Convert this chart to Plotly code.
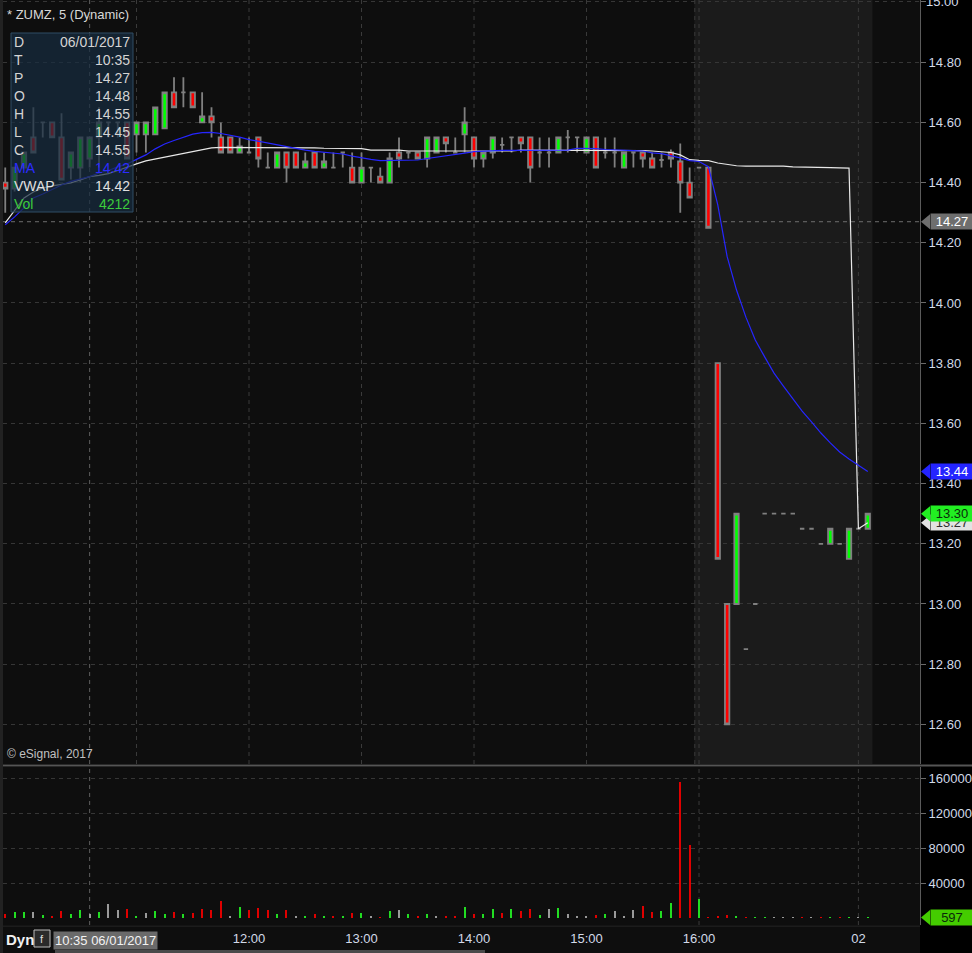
import plotly.graph_objects as go

# ---------------- data (5-minute bars, bar index 0 = 09:30) ----------------
FIRST_BAR = 4

opens = [14.40, 14.38, 14.45, 14.55, 14.60, 14.60, 14.55, 14.45, 14.45, 14.48,
         14.55, 14.60, 14.60, 14.60, 14.56, 14.56, 14.56, 14.58, 14.70, 14.70,
         14.70, 14.60, 14.62, 14.55, 14.55, 14.50, 14.50, 14.55, 14.45, 14.45,
         14.50, 14.50, 14.45, 14.50, 14.45, 14.45, 14.50, 14.45, 14.40, 14.45,
         14.42, 14.40, 14.50, 14.50, 14.50, 14.48, 14.50, 14.55, 14.50, 14.56,
         14.55, 14.48, 14.50, 14.525, 14.55, 14.55, 14.55, 14.50, 14.50, 14.50,
         14.55, 14.55, 14.50, 14.55, 14.50, 14.50, 14.45, 14.50, 14.50, 14.48,
         14.475, 14.50, 14.47, 14.40, 14.45, 14.45, 13.80, 13.00, 13.00, 12.85,
         13.00, 13.30, 13.30, 13.30, 13.30, 13.25, 13.25, 13.20, 13.20, 13.20,
         13.15, 13.25, 13.25]

highs = [14.45, 14.45, 14.50, 14.65, 14.60, 14.60, 14.63, 14.50, 14.55, 14.55,
         14.65, 14.60, 14.60, 14.60, 14.60, 14.60, 14.65, 14.70, 14.75, 14.75,
         14.70, 14.70, 14.65, 14.60, 14.55, 14.55, 14.55, 14.55, 14.50, 14.50,
         14.50, 14.50, 14.50, 14.50, 14.50, 14.50, 14.50, 14.50, 14.50, 14.45,
         14.45, 14.50, 14.55, 14.50, 14.50, 14.55, 14.55, 14.55, 14.55, 14.65,
         14.55, 14.50, 14.55, 14.55, 14.55, 14.55, 14.55, 14.55, 14.55, 14.55,
         14.575, 14.55, 14.55, 14.55, 14.55, 14.55, 14.50, 14.50, 14.50, 14.50,
         14.50, 14.51, 14.53, 14.45, 14.45, 14.45, 13.80, 13.00, 13.30, 12.85,
         13.00, 13.30, 13.30, 13.30, 13.30, 13.25, 13.25, 13.20, 13.25, 13.20,
         13.25, 13.25, 13.30]

lows = [14.30, 14.37, 14.45, 14.50, 14.55, 14.55, 14.41, 14.41, 14.40, 14.45,
        14.45, 14.55, 14.55, 14.48, 14.50, 14.50, 14.56, 14.58, 14.65, 14.65,
        14.65, 14.60, 14.55, 14.50, 14.50, 14.50, 14.50, 14.45, 14.45, 14.45,
        14.40, 14.45, 14.45, 14.45, 14.45, 14.45, 14.45, 14.40, 14.40, 14.40,
        14.40, 14.40, 14.45, 14.48, 14.48, 14.45, 14.50, 14.50, 14.50, 14.50,
        14.45, 14.45, 14.48, 14.50, 14.50, 14.50, 14.40, 14.45, 14.45, 14.50,
        14.50, 14.50, 14.50, 14.45, 14.48, 14.45, 14.45, 14.45, 14.45, 14.45,
        14.45, 14.45, 14.30, 14.35, 14.45, 14.25, 13.15, 12.60, 13.00, 12.85,
        13.00, 13.30, 13.30, 13.30, 13.30, 13.25, 13.25, 13.20, 13.20, 13.20,
        13.15, 13.25, 13.25]

closes = [14.38, 14.45, 14.50, 14.50, 14.60, 14.55, 14.41, 14.50, 14.55, 14.55,
          14.60, 14.60, 14.60, 14.48, 14.60, 14.60, 14.65, 14.70, 14.65, 14.70,
          14.65, 14.62, 14.60, 14.50, 14.50, 14.52, 14.50, 14.48, 14.45, 14.50,
          14.45, 14.45, 14.47, 14.45, 14.47, 14.45, 14.50, 14.40, 14.45, 14.45,
          14.40, 14.48, 14.48, 14.50, 14.48, 14.55, 14.55, 14.53, 14.50, 14.60,
          14.48, 14.50, 14.55, 14.525, 14.55, 14.53, 14.45, 14.50, 14.50, 14.55,
          14.55, 14.55, 14.55, 14.45, 14.50, 14.50, 14.50, 14.50, 14.48, 14.45,
          14.475, 14.48, 14.40, 14.35, 14.45, 14.25, 13.15, 12.60, 13.30, 12.85,
          13.00, 13.30, 13.30, 13.30, 13.30, 13.25, 13.25, 13.20, 13.25, 13.20,
          13.25, 13.25, 13.30]

volumes = [4600, 6900, 6900, 6900, 3800, 2300, 8000, 4600, 9100, 4212,
           6900, 16000, 9100, 10300, 2300, 5700, 8400, 4600, 6500, 4600,
           5700, 10300, 9500, 19800, 2300, 12600, 9100, 11400, 9100, 4600,
           9100, 1500, 2300, 4600, 2300, 1500, 2300, 5700, 6100, 2300,
           1100, 8000, 9100, 4600, 2300, 4600, 1500, 1500, 2300, 12600,
           4600, 4600, 10300, 5300, 10300, 8000, 10300, 3400, 9900, 11400,
           4600, 2300, 2300, 3400, 4600, 8000, 2300, 9100, 13700, 6900,
           8000, 17100, 155400, 83400, 21700, 500, 2300, 3400, 2300, 200,
           300, 200, 200, 800, 200, 200, 200, 200, 600, 200,
           600, 200, 597]

ma_values = [14.26, 14.286, 14.316, 14.349, 14.362, 14.377, 14.392, 14.404, 14.412, 14.42,
             14.432, 14.44, 14.452, 14.462, 14.477, 14.492, 14.512, 14.528, 14.54, 14.551,
             14.561, 14.566, 14.567, 14.563, 14.558, 14.551, 14.543, 14.537, 14.532, 14.527,
             14.519, 14.514, 14.508, 14.504, 14.501, 14.498, 14.495, 14.488, 14.482, 14.477,
             14.473, 14.473, 14.473, 14.474, 14.475, 14.48, 14.484, 14.488, 14.492, 14.498,
             14.503, 14.505, 14.506, 14.507, 14.507, 14.507, 14.507, 14.506, 14.506, 14.507,
             14.508, 14.514, 14.514, 14.513, 14.51, 14.508, 14.507, 14.506, 14.505, 14.499,
             14.496, 14.49, 14.482, 14.473, 14.47, 14.453, 14.326, 14.154, 14.043, 13.953,
             13.877, 13.821, 13.767, 13.724, 13.681, 13.641, 13.605, 13.568, 13.535, 13.505,
             13.482, 13.462, 13.44]

vwap_values = [14.266, 14.309, 14.349, 14.369, 14.382, 14.389, 14.394, 14.399, 14.409, 14.42,
               14.424, 14.43, 14.44, 14.452, 14.462, 14.472, 14.478, 14.485, 14.49, 14.498,
               14.503, 14.51, 14.515, 14.517, 14.517, 14.517, 14.517, 14.516, 14.515, 14.515,
               14.515, 14.515, 14.515, 14.515, 14.514, 14.514, 14.514, 14.513, 14.513, 14.508,
               14.508, 14.508, 14.508, 14.505, 14.505, 14.505, 14.505, 14.505, 14.505, 14.505,
               14.505, 14.505, 14.505, 14.505, 14.505, 14.508, 14.508, 14.508, 14.508, 14.508,
               14.508, 14.508, 14.508, 14.508, 14.508, 14.508, 14.508, 14.508, 14.506, 14.505,
               14.503, 14.50, 14.492, 14.476, 14.474, 14.473, 14.465, 14.461, 14.456, 14.455,
               14.455, 14.455, 14.455, 14.455, 14.452, 14.452, 14.452, 14.452, 14.45, 14.449,
               14.448, 13.25, 13.27]

tick_bars = [30, 42, 54, 66, 78, 95]
tick_labels = ["12:00", "13:00", "14:00", "15:00", "16:00", "02"]
grid_bars = [18, 30, 42, 54, 66, 77.55, 78, 95]
volume_grid_bars = [78, 95]
cursor_bar = 13
cursor_price = 14.27
cursor_label = "10:35 06/01/2017"
price_ticks = [12.6, 12.8, 13.0, 13.2, 13.4, 13.6, 13.8, 14.0, 14.2, 14.4, 14.6, 14.8]
top_price_tick = 15.0
volume_ticks = [40000, 80000, 120000, 160000]
extended_start, extended_end = 77.5, 96.5

bars = list(range(FIRST_BAR, FIRST_BAR + len(closes)))

# ---------------- layout geometry ----------------
W, H = 972, 953
ML, MR, MT, MB = 3, 52, 0, 28
PW, PH = W - ML - MR, H - MT - MB
price_dom = [(PH - 764) / PH, 1.0]
vol_dom = [0.0, (PH - 767) / PH]
price_range = [12.4684, 15.0066]
vol_range = [-8000, 172571]
x_range = [3.76, 101.57]


def px(X):
    return (X - ML) / PW


def py(Y):
    return (PH - (Y - MT)) / PH


def price_to_paper(p):
    return price_dom[0] + (p - price_range[0]) / (price_range[1] - price_range[0]) * (price_dom[1] - price_dom[0])


def vol_to_paper(v):
    return vol_dom[0] + (v - vol_range[0]) / (vol_range[1] - vol_range[0]) * (vol_dom[1] - vol_dom[0])


# volume colours: close vs previous close
vol_colors = []
for k, c in enumerate(closes):
    prev = closes[k - 1] if k > 0 else opens[k]
    if c > prev:
        vol_colors.append("#22dd22")
    elif c < prev:
        vol_colors.append("#e00000")
    else:
        vol_colors.append("#9a9a9a")

fig = go.Figure()

fig.add_trace(go.Scatter(x=bars, y=vwap_values, mode="lines",
                         line=dict(color="#e8e8e8", width=1.2),
                         xaxis="x", yaxis="y", hoverinfo="skip", showlegend=False))
fig.add_trace(go.Scatter(x=bars, y=ma_values, mode="lines",
                         line=dict(color="#2626ff", width=1.2),
                         xaxis="x", yaxis="y", hoverinfo="skip", showlegend=False))
fig.add_trace(go.Candlestick(x=bars, open=opens, high=highs, low=lows, close=closes,
                             increasing=dict(fillcolor="#00ff00", line=dict(color="#808080", width=1.8)),
                             decreasing=dict(fillcolor="#ff0000", line=dict(color="#808080", width=1.8)),
                             whiskerwidth=0, xaxis="x", yaxis="y",
                             hoverinfo="skip", showlegend=False))
fig.add_trace(go.Bar(x=bars, y=volumes, marker=dict(color=vol_colors, line=dict(width=0)),
                     width=0.13, xaxis="x2", yaxis="y2", hoverinfo="skip", showlegend=False))

axis_font = dict(family="Liberation Sans, Arial, sans-serif", size=13, color="#d2dae8")
grid_col = "#363636"

fig.update_layout(
    width=W, height=H, autosize=False,
    margin=dict(l=ML, r=MR, t=MT, b=MB),
    paper_bgcolor="#000000", plot_bgcolor="#0e0e0e",
    showlegend=False, boxgap=0.33, bargap=0,
    xaxis=dict(domain=[0, 1], range=x_range, anchor="y", showticklabels=False,
               showgrid=False, zeroline=False, rangeslider=dict(visible=False), fixedrange=True),
    xaxis2=dict(domain=[0, 1], range=x_range, anchor="y2", matches="x",
                tickvals=tick_bars, ticktext=tick_labels, ticks="", showgrid=False,
                zeroline=False, tickfont=axis_font, ticklabelstandoff=4),
    yaxis=dict(domain=price_dom, range=price_range, side="right", anchor="x",
               tickvals=price_ticks + [top_price_tick],
               ticktext=["%.2f" % v for v in price_ticks] + [""],
               showgrid=True, gridcolor=grid_col, griddash="4px,4px", gridwidth=1,
               ticks="outside", ticklen=5, tickcolor="#6a6a6a",
               showline=True, linecolor="#5a5a5a", linewidth=1,
               zeroline=False, tickfont=axis_font),
    yaxis2=dict(domain=vol_dom, range=vol_range, side="right", anchor="x2",
                tickvals=volume_ticks, ticktext=[str(v) for v in volume_ticks],
                showgrid=True, gridcolor=grid_col, griddash="4px,4px", gridwidth=1,
                ticks="outside", ticklen=5, tickcolor="#6a6a6a",
                showline=True, linecolor="#5a5a5a", linewidth=1,
                zeroline=False, tickfont=axis_font),
)

shapes = []
# extended-hours shading (price panel)
shapes.append(dict(type="rect", xref="x", yref="y domain", x0=extended_start, x1=extended_end,
                   y0=0, y1=1, fillcolor="#1b1b1b", line=dict(width=0), layer="below"))
# vertical grid lines
for b in grid_bars:
    shapes.append(dict(type="line", xref="x", yref="y domain", x0=b, x1=b, y0=0, y1=1,
                       line=dict(color="#3a3a3a", width=1, dash="4px,4px"), layer="below"))
for b in volume_grid_bars:
    shapes.append(dict(type="line", xref="x2", yref="y2 domain", x0=b, x1=b, y0=0, y1=1,
                       line=dict(color="#3a3a3a", width=1, dash="4px,4px"), layer="below"))
# cursor crosshair
for yr in ["y domain", "y2 domain"]:
    shapes.append(dict(type="line", xref="x", yref=yr, x0=cursor_bar, x1=cursor_bar, y0=0, y1=1,
                       line=dict(color="#5e5e5e", width=1, dash="4px,4px"), layer="below"))
shapes.append(dict(type="line", xref="x domain", yref="y", x0=0, x1=1, y0=cursor_price, y1=cursor_price,
                   line=dict(color="#6e6e6e", width=1, dash="4px,4px"), layer="below"))
# panel separator
shapes.append(dict(type="line", xref="paper", yref="paper", x0=px(0), x1=px(W), y0=py(765.5), y1=py(765.5),
                   line=dict(color="#555555", width=2)))
# left border strip
shapes.append(dict(type="rect", xref="paper", yref="paper", x0=px(0), x1=px(3), y0=py(H), y1=py(0),
                   fillcolor="#222222", line=dict(width=0)))
# bottom axis strip
shapes.append(dict(type="rect", xref="paper", yref="paper", x0=px(3), x1=px(920), y0=py(H), y1=py(926),
                   fillcolor="#0e0e0e", line=dict(width=0), layer="below"))
shapes.append(dict(type="line", xref="paper", yref="paper", x0=px(3), x1=px(920), y0=py(926), y1=py(926),
                   line=dict(color="#2a2a2a", width=1)))
shapes.append(dict(type="rect", xref="paper", yref="paper", x0=px(55), x1=px(485), y0=py(953), y1=py(950),
                   fillcolor="#4a4a4a", line=dict(width=0)))
# info box
shapes.append(dict(type="rect", xref="paper", yref="paper", x0=px(11), x1=px(133), y0=py(212), y1=py(33),
                   fillcolor="rgba(24,44,64,0.72)", line=dict(color="#2e4c64", width=1), layer="above"))
# "Dyn" icon box
shapes.append(dict(type="rect", xref="paper", yref="paper", x0=px(34), x1=px(50), y0=py(947), y1=py(930),
                   fillcolor="#2a2a2a", line=dict(color="#bbbbbb", width=1)))

annotations = []


def add_text(X, Y, text, color="#d4d4d4", size=13, xanchor="left", bold=False, **kw):
    annotations.append(dict(xref="paper", yref="paper", x=px(X), y=py(Y), text=("<b>%s</b>" % text) if bold else text,
                            showarrow=False, xanchor=xanchor, yanchor="middle",
                            font=dict(family="Liberation Sans, Arial, sans-serif", size=size, color=color), **kw))


add_text(5, 15, "* ZUMZ, 5 (Dynamic)", color="#d8d8d8", size=13)
add_text(5, 754, "© eSignal, 2017", color="#c0c0c0", size=12)
# top price label, cut by the top edge as in the original
annotations.append(dict(xref="paper", yref="paper", x=px(924), y=price_to_paper(top_price_tick),
                        text="%.2f" % top_price_tick, showarrow=False, xanchor="left", yanchor="middle",
                        font=axis_font))

# info box rows (values of the cursor bar)
ci = cursor_bar - FIRST_BAR
rows = [("D", "06/01/2017", "#d4d4d4"), ("T", "10:35", "#d4d4d4"), ("P", "%.2f" % cursor_price, "#d4d4d4"),
        ("O", "%.2f" % opens[ci], "#d4d4d4"), ("H", "%.2f" % highs[ci], "#d4d4d4"),
        ("L", "%.2f" % lows[ci], "#d4d4d4"), ("C", "%.2f" % closes[ci], "#d4d4d4"),
        ("MA", "%.2f" % ma_values[ci], "#2b2bff"), ("VWAP", "%.2f" % vwap_values[ci], "#e0e0e0"),
        ("Vol", str(volumes[ci]), "#3ccc3c")]
for r, (lab, val, col) in enumerate(rows):
    Y = 42 + r * 18
    add_text(12, Y, lab, color=col, size=14)
    add_text(132, Y, val, color=col, size=14, xanchor="right")

# bottom strip texts
add_text(4, 939, "Dyn", color="#f0f0f0", size=15, bold=True)
add_text(42, 939, "f", color="#dddddd", size=11, xanchor="center")
add_text(105, 940, cursor_label, color="#f2f2f2", size=13, xanchor="center",
         bgcolor="#6a6a6a", borderpad=1)


# axis value tags
def tag(Yp, text, bg, fg):
    h = 7.5 / PH
    shapes.append(dict(type="path", xref="paper", yref="paper",
                       path="M %f,%f L %f,%f L %f,%f Z" % (px(921), Yp, px(930), Yp + h, px(930), Yp - h),
                       fillcolor=bg, line=dict(width=0)))
    annotations.append(dict(xref="paper", yref="paper", x=px(929.5), y=Yp, text=text, showarrow=False,
                            xanchor="left", yanchor="middle", width=42, height=15, align="center",
                            bgcolor=bg, borderpad=0,
                            font=dict(family="Liberation Sans, Arial, sans-serif", size=13, color=fg)))


tag(price_to_paper(cursor_price), "%.2f" % cursor_price, "#6e6e6e", "#ffffff")
tag(price_to_paper(ma_values[-1]), "%.2f" % ma_values[-1], "#2424ff", "#ffffff")
tag(price_to_paper(vwap_values[-1]), "%.2f" % vwap_values[-1], "#e2e2e2", "#303030")
tag(price_to_paper(closes[-1]), "%.2f" % closes[-1], "#22ee22", "#0a2a0a")
tag(vol_to_paper(volumes[-1]), str(volumes[-1]), "#44cc00", "#0a2a0a")

fig.update_layout(shapes=shapes, annotations=annotations)

fig.write_html("out.html", config=dict(displayModeBar=False),
               post_script="document.body.style.margin='0';document.body.style.overflow='hidden';")
